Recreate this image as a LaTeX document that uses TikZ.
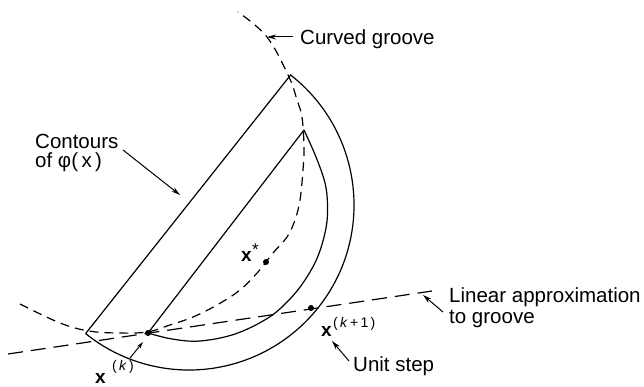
\documentclass[tikz,border=0pt]{standalone}
\usepackage{fontspec}
\setmainfont{Liberation Sans}
\usetikzlibrary{arrows.meta}
\begin{document}
\begin{tikzpicture}[x=1pt,y=-1pt,
  contour/.style={line width=1.2pt},
  groove/.style={line width=1.2pt, dash pattern=on 9pt off 6pt},
  linapprox/.style={line width=1.2pt, dash pattern=on 15pt off 8pt},
  pointer/.style={-{Stealth[length=9pt,width=5pt]}, line width=1pt},
  lbl/.style={font=\fontsize{20.5}{19}\selectfont, inner sep=0pt, align=left},
  mlbl/.style={font=\fontsize{19}{19}\selectfont\bfseries, inner sep=0pt, anchor=base west},
  sup/.style={font=\fontsize{14}{14}\selectfont, inner sep=0pt, anchor=base west},
  dotmark/.style={circle, fill, inner sep=0pt, minimum size=6pt}]
\useasboundingbox (0,0) rectangle (644,387);
% key points
\coordinate (apexO) at (290.6,75);
\coordinate (cornerO) at (85.6,333.6);
\coordinate (apexI) at (304,130);
\coordinate (linL) at (8,354);
\coordinate (linR) at (432,291);
\node[dotmark] (xk) at (148,333) {};
\node[dotmark] (xk1) at (311,308) {};
\node[dotmark] (xs) at (266,262) {};
% outer contour
\draw[contour] (cornerO) -- (apexO) arc[start angle=-52, end angle=128.8, radius=165];
% inner contour
\draw[contour] (xk.center) -- (apexI);
\draw[contour] plot[smooth, tension=0.6] coordinates {(304,130) (316,157) (325,183) (327.5,205) (326,228) (318,256) (305,280) (289,300) (268,318) (235,334) (200,341) (172,339) (148,333)};
% curved groove
\draw[groove] plot[smooth, tension=0.6] coordinates {(20,304) (60,323) (89,331) (118,333) (147,332) (170,325) (193,317) (217,305) (240,290) (258,272) (273,253) (287,237) (295,220) (300,200) (303,170) (304,147) (302,117) (297,100) (289,77) (267,37) (238,12)};
% linear approximation
\draw[linapprox] (linL) -- (linR);
% labels
\node[lbl, anchor=base west] (cg) at (300,45) {Curved groove};
\coordinate (cgtip) at (267,37);
\draw[pointer] (293,37) -- (cgtip);
\node[lbl, anchor=north west] (ct) at (35,133.5) {Contours\\of φ(\,x\,)};
\coordinate (cttip) at (180,195);
\draw[pointer] (123,150) -- (cttip);
\node[lbl, anchor=north west, font=\fontsize{20.5}{21}\selectfont] (la) at (449,287) {Linear approximation\\to groove};
\coordinate (latip) at (423,295);
\draw[pointer] (443,312) -- (latip);
\node[lbl, anchor=base west] (us) at (353,371) {Unit step};
\coordinate (ustip) at (332,341);
\draw[pointer] (349,361) -- (ustip);
% step arrow near x(k)
\coordinate (stepfrom) at (130,358);
\coordinate (stepto) at (143,342);
\draw[pointer, -{Stealth[length=7pt,width=4pt]}] (stepfrom) -- (stepto);
% point labels
\node[mlbl] (lxk) at (95,383) {x};
\node[sup] (lxksup) at (112,370) {(\,\textit{k}\,)};
\node[mlbl] (lxs) at (241,261) {x};
\node[sup, font=\fontsize{17}{17}\selectfont] (lxssup) at (252,255) {*};
\node[mlbl] (lxk1) at (321,336) {x};
\node[sup] (lxk1sup) at (333,327) {(\,\textit{k}\,+\,1\,)};
\end{tikzpicture}
\end{document}
